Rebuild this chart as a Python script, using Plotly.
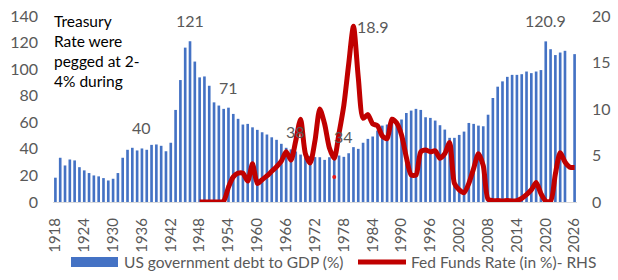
import plotly.graph_objects as go

# ---- data ----
years = list(range(1918, 2027))
debt_to_gdp = [
    18.3, 33.3, 27.5, 32.0, 31.3, 26.2, 23.8, 21.8, 20.0, 19.3,   # 1918-1927
    18.0, 16.2, 17.5, 21.8, 33.3, 39.3, 40.8, 38.8, 40.3, 39.3,   # 1928-1937
    43.0, 43.3, 42.3, 38.2, 44.6, 69.3, 91.8, 116.2, 121.0, 105.7, # 1938-1947
    93.8, 94.5, 87.5, 75.0, 72.6, 70.1, 71.0, 66.3, 62.6, 58.3,   # 1948-1957
    58.8, 56.2, 54.3, 52.5, 50.8, 48.7, 46.8, 43.8, 40.8, 39.6,   # 1958-1967
    38.0, 35.7, 35.0, 34.7, 33.8, 33.7, 31.7, 33.7, 34.7, 35.0,   # 1968-1977
    34.0, 36.7, 41.3, 40.0, 44.6, 47.5, 49.3, 53.8, 57.5, 58.3,   # 1978-1987
    60.0, 60.0, 62.1, 67.0, 68.8, 70.1, 69.3, 63.8, 63.3, 61.3,   # 1988-1997
    57.8, 54.5, 48.3, 48.3, 50.5, 53.0, 59.5, 58.8, 57.5, 57.0,   # 1998-2007
    65.7, 78.3, 86.8, 90.8, 94.2, 95.7, 95.7, 96.2, 98.2, 97.0,   # 2008-2017
    98.2, 99.3, 120.9, 115.0, 110.6, 112.5, 113.8, None, 111.3    # 2018-2026
]

ff_years = list(range(1948, 2027))
fed_funds = [
    0.0, 0.0, 0.0, 0.0, 0.0, 0.1, 1.6, 2.7, 3.1, 3.1,     # 1948-1957
    2.25, 4.1, 2.0, 2.4, 2.8, 3.3, 3.8, 4.4, 5.4, 4.5,    # 1958-1967
    6.6, 8.9, 5.2, 4.2, 6.6, 10.0, 8.4, 5.8, 4.7, 7.4,    # 1968-1977
    10.4, 14.8, 18.9, 13.4, 9.0, 9.4, 8.4, 8.2, 7.1, 6.8, # 1978-1987
    8.9, 8.5, 7.2, 4.8, 2.9, 2.9, 5.4, 5.6, 5.4, 5.5,     # 1988-1997
    4.7, 5.2, 6.4, 2.0, 1.3, 1.0, 2.0, 3.6, 5.2, 3.9,     # 1998-2007
    0.3, 0.15, 0.15, 0.1, 0.15, 0.12, 0.15, 0.4, 0.8, 1.3, # 2008-2017
    2.1, 0.9, 0.1, 0.08, 3.0, 5.3, 4.3, 3.75, 3.7         # 2018-2026
]

stray_x = [1976]
stray_y = [2.7]

tick_years = list(range(1918, 2027, 6))
left_ticks = [0, 20, 40, 60, 80, 100, 120, 140]
right_ticks = [0, 5, 10, 15, 20]

bar_labels = {1936: "40", 1946: "121", 1954: "71", 1968: "38", 1978: "34", 2020: "120.9"}
line_label_year = 1980
line_label_text = "18.9"
note_text = "Treasury<br>Rate were<br>pegged at 2-<br>4% during"
bar_name = "US government debt to GDP (%)"
line_name = "Fed Funds Rate (in %)- RHS"

FONT = "Lato, 'Open Sans', sans-serif"
GREY = "#595959"
BLUE = "#4472C4"
RED = "#C00000"

W, H = 618, 280
ML, MR, MT, MB = 53, 41, 16, 78
PW, PH = W - ML - MR, H - MT - MB


def px_to_paper(px, py):
    return (px - ML) / PW, (H - MB - py) / PH


fig = go.Figure()
fig.add_trace(go.Bar(
    x=years, y=debt_to_gdp, name=bar_name,
    marker=dict(color=BLUE, line=dict(width=0)), width=0.55, yaxis="y",
))
fig.add_trace(go.Scatter(
    x=ff_years, y=fed_funds, name=line_name,
    mode="lines", line=dict(color=RED, width=5, shape="spline", smoothing=0.7),
    yaxis="y2",
))
fig.add_trace(go.Scatter(
    x=stray_x, y=stray_y, mode="markers", showlegend=False,
    marker=dict(color="#E8161B", size=4), yaxis="y2",
))

annotations = []
for yr, txt in bar_labels.items():
    annotations.append(dict(
        x=yr, y=debt_to_gdp[years.index(yr)], xref="x", yref="y", text=txt,
        showarrow=False, yanchor="bottom", yshift=9,
        font=dict(family=FONT, size=16, color=GREY),
    ))
annotations.append(dict(
    x=line_label_year, y=fed_funds[ff_years.index(line_label_year)], xref="x", yref="y2",
    text=line_label_text, showarrow=False, xanchor="left", yanchor="middle", xshift=2,
    font=dict(family=FONT, size=16, color=GREY),
))
annotations.append(dict(
    x=-0.002, y=1.03, xref="paper", yref="paper", text=note_text, align="left",
    showarrow=False, xanchor="left", yanchor="top",
    font=dict(family=FONT, size=15.5, color="#000000"),
))

# legend drawn as swatches + labels below the plot
shapes = []
x0, y0 = px_to_paper(71, 267)
x1, y1 = px_to_paper(118, 257)
shapes.append(dict(type="rect", xref="paper", yref="paper", x0=x0, y0=y0, x1=x1, y1=y1,
                   fillcolor=BLUE, line=dict(width=0)))
lx0, ly = px_to_paper(358, 262)
lx1, _ = px_to_paper(406, 262)
shapes.append(dict(type="line", xref="paper", yref="paper", x0=lx0, y0=ly, x1=lx1, y1=ly,
                   line=dict(color=RED, width=5)))
tx, ty = px_to_paper(122, 262)
annotations.append(dict(x=tx, y=ty, xref="paper", yref="paper", text=bar_name,
                        showarrow=False, xanchor="left", yanchor="middle",
                        font=dict(family=FONT, size=15.5, color=GREY)))
tx2, _ = px_to_paper(409, 262)
annotations.append(dict(x=tx2, y=ty, xref="paper", yref="paper", text=line_name,
                        showarrow=False, xanchor="left", yanchor="middle",
                        font=dict(family=FONT, size=15.5, color=GREY)))

fig.update_layout(
    width=W, height=H,
    margin=dict(l=ML, r=MR, t=MT, b=MB, autoexpand=False),
    paper_bgcolor="white", plot_bgcolor="white",
    font=dict(family=FONT, size=15, color=GREY),
    showlegend=False,
    annotations=annotations,
    shapes=shapes,
    xaxis=dict(range=[1917.5, 2026.5], tickvals=tick_years, tickangle=-90,
               showgrid=False, zeroline=False, showline=True, linecolor="#D9D9D9",
               linewidth=1, ticks="", ticklabelstandoff=9, automargin=False,
               tickfont=dict(family=FONT, size=15, color=GREY)),
    yaxis=dict(range=[0, 140], tickvals=left_ticks, showgrid=False, zeroline=False,
               showline=False, ticks="", ticklabelstandoff=14, automargin=False,
               tickfont=dict(family=FONT, size=16, color=GREY)),
    yaxis2=dict(range=[0, 20], tickvals=right_ticks, overlaying="y", side="right",
                showgrid=False, zeroline=False, showline=False, ticks="",
                ticklabelstandoff=14, automargin=False,
                tickfont=dict(family=FONT, size=16, color=GREY)),
)

fig.write_html("out.html")
